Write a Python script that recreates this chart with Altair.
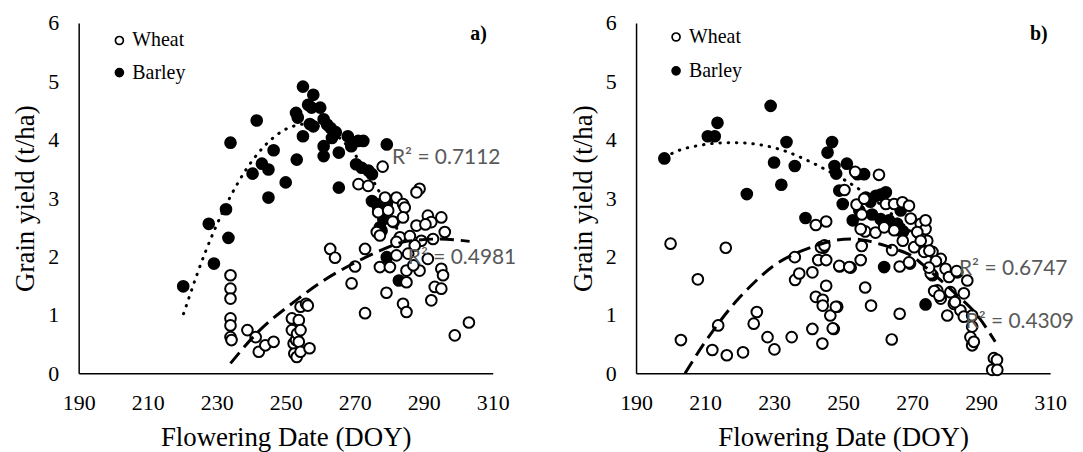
import altair as alt
import pandas as pd

# ---------------- shared text / ticks ----------------
X_TICKS = [190, 210, 230, 250, 270, 290, 310]
Y_TICKS = [0, 1, 2, 3, 4, 5, 6]
X_TITLE = "Flowering Date (DOY)"
Y_TITLE = "Grain yield (t/ha)"
LEGEND_LABELS = ["Wheat", "Barley"]

# ---------------- panel a ----------------
a_wheat_doy = [234.0, 234.0, 234.0, 234.0, 234.0, 234.0, 234.3,
               238.9, 241.3, 242.2, 244.1, 246.5,
               251.8, 251.8, 252.3, 252.5, 253.0, 253.2, 253.3, 253.8, 254.3, 255.9, 256.4, 254.3, 253.8, 254.3, 256.9,
               262.9, 264.3, 270.1, 269.1, 273.0, 273.0,
               271.1, 273.9, 278.1,
               288.8, 287.9, 278.8, 282.1, 284.0, 284.5, 276.8, 279.7, 284.0, 291.2, 295.1, 292.2, 287.9, 296.1,
               276.4, 277.3, 283.1, 282.1, 289.3, 292.7, 287.4, 282.1, 285.5, 291.2, 277.3, 280.2, 285.0, 288.8,
               295.1, 295.6, 285.0, 293.2, 295.1, 279.2, 292.2, 284.0, 285.0, 303.1, 299.0,
               286.0, 281.0, 290.5, 287.0]
a_wheat_yield = [1.68, 1.45, 1.28, 0.94, 0.82, 0.62, 0.57,
                 0.74, 0.62, 0.37, 0.48, 0.54,
                 0.94, 0.74, 0.51, 0.34, 0.57, 0.28, 0.68, 0.91, 1.14, 1.19, 1.16, 0.74, 0.54, 0.37, 0.43,
                 2.13, 1.98, 1.83, 1.54, 1.03, 2.13,
                 3.24, 3.21, 3.54,
                 3.16, 3.10, 3.01, 3.01, 2.90, 2.84, 2.76, 2.79, 2.67, 2.70, 2.67, 2.59, 2.53, 2.42,
                 2.42, 2.36, 2.33, 2.25, 2.27, 2.30, 2.19, 2.02, 2.05, 1.96, 1.82, 1.82, 1.76, 1.76,
                 1.79, 1.68, 1.56, 1.48, 1.45, 1.38, 1.25, 1.19, 1.05, 0.87, 0.65,
                 2.35, 2.60, 2.55, 1.85]
a_barley_doy = [220.3, 227.7, 229.2, 232.7, 233.4, 234.0, 240.4, 241.6, 243.1, 245.0, 246.5, 245.0,
                250.0, 253.2, 253.0, 253.5, 255.0, 255.0, 256.5, 258.0, 257.5, 260.0, 261.0, 258.0,
                262.0, 263.0, 263.4, 261.0, 261.0, 265.4, 268.0, 269.0, 271.0, 272.5, 270.4, 272.0,
                274.0, 275.0, 265.4, 279.3, 275.0, 276.8, 279.3, 277.3, 281.3, 279.3, 282.8, 277.8,
                278.3, 276.4, 257.0, 264.5]
a_barley_yield = [1.49, 2.56, 1.88, 2.81, 2.32, 3.95, 3.42, 4.33, 3.59, 3.49, 3.82, 3.01,
                  3.27, 3.66, 4.46, 4.38, 4.91, 4.06, 4.60, 4.77, 4.55, 4.55, 4.35, 4.23,
                  4.26, 4.20, 4.03, 3.89, 3.72, 3.78, 4.06, 3.89, 3.98, 3.98, 3.58, 3.52,
                  3.47, 3.41, 3.18, 3.92, 2.95, 2.84, 2.90, 2.50, 2.59, 1.99, 1.59, 2.44,
                  2.64, 2.90, 4.27, 4.13]
# trend lines
a_wheat_fit_doy = [234.0, 241.5, 252.8, 261.0, 269.6, 277.3, 285.0, 294.6, 303.3]
a_wheat_fit_yield = [0.17, 0.68, 1.24, 1.59, 1.88, 2.10, 2.26, 2.30, 2.26]
a_barley_fit_doy = [220.4, 222.0, 224.4, 226.8, 230.0, 234.0, 238.3, 242.0, 246.1, 250.0, 253.3,
                    256.0, 260.0, 265.0, 270.0, 275.0, 280.0, 282.8]
a_barley_fit_yield = [1.02, 1.30, 1.71, 2.09, 2.54, 3.03, 3.47, 3.77, 4.02, 4.18, 4.25,
                      4.27, 4.22, 4.06, 3.75, 3.33, 2.77, 2.40]
a_r2_text = ["R² = 0.7112", "R² = 0.4981"]
a_r2_doy = [280.8, 285.4]
a_r2_yield = [3.69, 1.98]
a_legend_doy = [201.8, 201.8]
a_legend_yield = [5.70, 5.15]
a_tag = ["a)"]
a_tag_doy = [305.9]
a_tag_yield = [5.81]

# ---------------- panel b ----------------
b_wheat_doy = [200.0, 203.0, 207.9, 212.1, 213.8, 216.3, 216.0, 221.0, 224.1, 225.0, 228.1, 230.1,
               235.1, 236.0, 236.1, 237.3, 241.1, 241.1, 242.1, 242.1, 242.8, 244.0, 244.1, 244.1,
               244.3, 245.1, 245.1, 245.1, 246.3, 247.3, 248.3, 249.0, 252.2, 255.1, 255.4, 256.4,
               256.4, 258.1, 259.4, 260.4, 250.4, 253.9, 255.4, 264.1, 266.4, 266.4, 264.2, 269.4,
               253.5, 255.1, 256.1, 262.4, 264.8, 267.2, 269.1, 269.6, 272.5, 273.9, 271.5, 274.4,
               273.5, 275.9, 278.3, 275.4, 279.7, 280.7, 286.0, 283.1, 277.3, 278.3, 281.1, 282.1,
               280.2, 284.0, 285.0, 287.4, 286.9, 287.4, 287.9, 293.7, 294.6, 293.2, 294.7, 269.1,
               261.9, 264.8, 267.3, 270.6, 272.5, 273.9, 275.0, 285.0, 243.6, 248.9, 251.8, 244.6,
               247.9, 247.0, 276.9, 274.9, 276.4, 277.9, 282.9, 282.4, 287.4]
b_wheat_yield = [2.22, 0.57, 1.61, 0.40, 0.82, 0.31, 2.15, 0.36, 0.85, 1.05, 0.62, 0.41,
                 0.62, 1.99, 1.60, 1.71, 0.76, 1.73, 2.54, 1.31, 1.94, 0.51, 1.26, 1.16,
                 2.15, 2.60, 1.94, 1.50, 0.99, 0.76, 1.14, 1.83, 1.81, 1.94, 2.18, 1.47,
                 2.43, 1.16, 2.41, 3.40, 3.14, 2.89, 2.72, 0.58, 1.02, 1.83, 2.11, 1.88,
                 3.45, 2.47, 2.99, 2.90, 2.90, 2.93, 2.87, 2.65, 2.56, 2.47, 2.42, 2.27,
                 2.08, 2.08, 1.96, 1.71, 1.79, 1.65, 1.59, 1.73, 1.42, 1.28, 1.39, 1.19,
                 0.99, 1.08, 0.97, 0.80, 0.62, 0.48, 0.54, 0.26, 0.23, 0.06, 0.06, 1.90,
                 2.50, 2.45, 2.27, 2.16, 2.27, 2.62, 2.10, 1.37, 2.16, 1.84, 1.82, 2.19,
                 1.14, 0.77, 1.92, 1.81, 1.41, 1.33, 1.75, 1.22, 0.99]
b_barley_doy = [198.2, 210.8, 212.8, 213.6, 222.1, 229.0, 230.0, 232.1, 233.6, 236.0, 239.1,
                245.5, 246.8, 247.5, 248.0, 248.9, 249.9, 251.1, 252.8, 254.2, 256.1, 254.7,
                256.6, 259.5, 262.4, 260.9, 263.3, 265.7, 266.7, 266.2, 267.4, 261.9, 275.9,
                273.9, 258.4, 257.9, 260.9]
b_barley_yield = [3.68, 4.06, 4.06, 4.29, 3.07, 4.58, 3.61, 3.23, 3.96, 3.55, 2.66,
                  3.78, 3.96, 3.55, 3.42, 3.13, 2.90, 3.59, 2.62, 3.41, 3.41, 2.79,
                  3.01, 3.04, 3.10, 2.64, 2.62, 2.56, 2.79, 2.45, 2.43, 1.82, 1.68,
                  1.18, 2.72, 2.94, 3.06]
b_wheat_fit_doy = [204.2, 209.7, 213.8, 218.8, 223.8, 229.8, 235.8, 241.8, 247.8, 252.5, 255.1,
                   260.9, 265.0, 269.6, 275.4, 282.1, 288.8, 294.1]
b_wheat_fit_yield = [0.0, 0.51, 0.85, 1.22, 1.53, 1.84, 2.04, 2.18, 2.28, 2.30, 2.29,
                     2.21, 2.13, 2.02, 1.74, 1.39, 1.00, 0.54]
b_barley_fit_doy = [198.2, 203.0, 208.0, 213.0, 218.6, 225.3, 233.0, 238.8, 244.6, 249.9, 255.0,
                    260.0, 265.0, 270.0, 276.0]
b_barley_fit_yield = [3.70, 3.83, 3.90, 3.94, 3.95, 3.92, 3.81, 3.67, 3.50, 3.33, 3.14,
                      2.93, 2.68, 2.40, 2.03]
b_r2_text = ["R² = 0.6747", "R² = 0.4309"]
b_r2_doy = [283.6, 285.5]
b_r2_yield = [1.79, 0.88]
b_legend_doy = [201.6, 201.6]
b_legend_yield = [5.76, 5.18]
b_tag = ["b)"]
b_tag_doy = [306.7]
b_tag_yield = [5.81]

SERIF = "Liberation Serif"


def make_panel(wd, wy, bd, by, wfd, wfy, bfd, bfy, r2t, r2d, r2y, ld, ly, tag, tagd, tagy):
    xs = alt.Scale(domain=[190, 310], nice=False, zero=False)
    ys = alt.Scale(domain=[0, 6], nice=False, zero=True)
    xax = alt.Axis(values=X_TICKS, title=X_TITLE, format="d", labelPadding=19,
                   titlePadding=12, labelFlush=False, labelFont=SERIF, labelFontSize=22,
                   titleFont=SERIF, titleFontSize=27)
    yax = alt.Axis(values=Y_TICKS, title=Y_TITLE, format="d", labelPadding=20,
                   titlePadding=8, labelFlush=False, labelFont=SERIF, labelFontSize=22,
                   titleFont=SERIF, titleFontSize=27)
    X = alt.X("doy:Q", scale=xs, axis=xax)
    Y = alt.Y("yld:Q", scale=ys, axis=yax)

    wheat = pd.DataFrame({"doy": wd, "yld": wy})
    barley = pd.DataFrame({"doy": bd, "yld": by})
    wfit = pd.DataFrame({"doy": wfd, "yld": wfy})
    bfit = pd.DataFrame({"doy": bfd, "yld": bfy})
    r2 = pd.DataFrame({"doy": r2d, "yld": r2y, "label": r2t})
    leg = pd.DataFrame({"doy": ld, "yld": ly, "label": LEGEND_LABELS,
                        "fill": ["white", "black"]})
    tg = pd.DataFrame({"doy": tagd, "yld": tagy, "label": tag})

    barley_pts = alt.Chart(barley).mark_point(
        shape="circle", filled=True, fill="black", stroke="black", strokeWidth=2,
        size=115, opacity=1).encode(x=X, y=Y)
    barley_line = alt.Chart(bfit).mark_line(
        color="black", strokeWidth=3, strokeDash=[0.5, 7.8], strokeCap="round",
        interpolate="monotone").encode(x=X, y=Y)
    wheat_pts = alt.Chart(wheat).mark_point(
        shape="circle", filled=True, fill="white", stroke="black", strokeWidth=2,
        size=115, opacity=1).encode(x=X, y=Y)
    wheat_line = alt.Chart(wfit).mark_line(
        color="black", strokeWidth=3, strokeDash=[14, 7],
        interpolate="monotone").encode(x=X, y=Y)
    r2_txt = alt.Chart(r2).mark_text(
        align="left", baseline="middle", font="Lato", fontSize=21,
        color="#595959").encode(x=X, y=Y, text="label:N")
    leg_pts = alt.Chart(leg).mark_point(
        shape="circle", filled=True, stroke="black", strokeWidth=1.7, size=64,
        opacity=1).encode(x=X, y=Y, fill=alt.Fill("fill:N", scale=None))
    leg_txt = alt.Chart(leg).mark_text(
        align="left", baseline="middle", dx=13, font=SERIF, fontSize=20,
        color="black").encode(x=X, y=Y, text="label:N")
    tag_txt = alt.Chart(tg).mark_text(
        align="center", baseline="middle", font=SERIF, fontSize=20,
        fontWeight="bold", color="black").encode(x=X, y=Y, text="label:N")

    return alt.layer(barley_pts, barley_line, wheat_pts, wheat_line, r2_txt,
                     leg_pts, leg_txt, tag_txt).properties(width=416, height=352)


panel_a = make_panel(a_wheat_doy, a_wheat_yield, a_barley_doy, a_barley_yield,
                     a_wheat_fit_doy, a_wheat_fit_yield, a_barley_fit_doy, a_barley_fit_yield,
                     a_r2_text, a_r2_doy, a_r2_yield, a_legend_doy, a_legend_yield,
                     a_tag, a_tag_doy, a_tag_yield)
panel_b = make_panel(b_wheat_doy, b_wheat_yield, b_barley_doy, b_barley_yield,
                     b_wheat_fit_doy, b_wheat_fit_yield, b_barley_fit_doy, b_barley_fit_yield,
                     b_r2_text, b_r2_doy, b_r2_yield, b_legend_doy, b_legend_yield,
                     b_tag, b_tag_doy, b_tag_yield)

chart = alt.hconcat(panel_a, panel_b, spacing=144, bounds="flush").properties(
    padding={"left": 4, "top": 3, "right": 0, "bottom": 0},
    background="white"
).configure_view(stroke=None).configure_axis(
    domainColor="black", domainWidth=1.5, ticks=False, tickSize=0, grid=False,
    labelFont=SERIF, labelFontSize=22, labelColor="black",
    titleFont=SERIF, titleFontSize=27, titleFontWeight="normal", titleColor="black"
)

chart.save("out.html", embed_options={"renderer": "svg", "actions": False})
